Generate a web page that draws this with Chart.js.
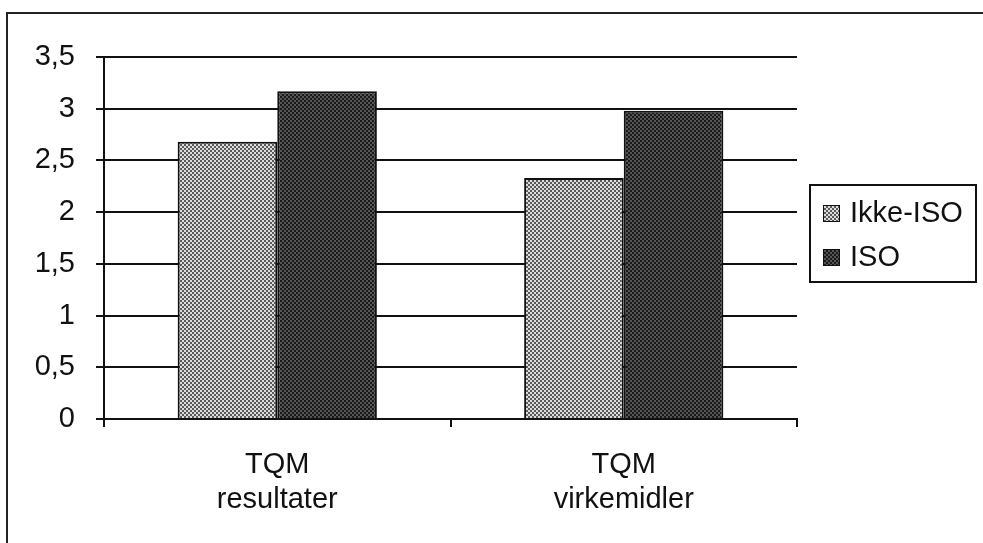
<!DOCTYPE html>
<html>
<head>
<meta charset="utf-8">
<script src="https://cdn.jsdelivr.net/npm/chart.js@4.4.1/dist/chart.umd.min.js"></script>
<style>
  html, body { margin: 0; padding: 0; background: #fff; }
  #wrap { position: relative; width: 983px; height: 543px; }
</style>
</head>
<body>
<div id="wrap"><canvas id="c" width="983" height="543"></canvas></div>
<script>
// Mean scores per TQM dimension, split by ISO certification
const categories = [['TQM', 'resultater'], ['TQM', 'virkemidler']];
const seriesNames = ['Ikke-ISO', 'ISO'];
const ikkeIso = [2.68, 2.33];
const iso = [3.17, 2.98];
const yTickLabels = ['0', '0,5', '1', '1,5', '2', '2,5', '3', '3,5'];

const FONT = "'Liberation Sans', Arial, Helvetica, sans-serif";
const FONT_SIZE = 29;
const INK = '#111111';

// Small checkered tiles that give the bars their dotted raster fill
function checker(light, dark) {
  const t = document.createElement('canvas');
  t.width = 4; t.height = 4;
  const g = t.getContext('2d');
  g.fillStyle = light; g.fillRect(0, 0, 4, 4);
  g.fillStyle = dark;
  g.fillRect(0, 0, 2, 2);
  g.fillRect(2, 2, 2, 2);
  return g.createPattern(t, 'repeat');
}
const lightFill = checker('#dcdcdc', '#5a5a5a');
const darkFill = checker('#555555', '#1a1a1a');

// White page with the thin frame round the whole figure
const framePlugin = {
  id: 'frame',
  beforeDraw(chart) {
    const ctx = chart.ctx;
    ctx.save();
    ctx.fillStyle = '#ffffff';
    ctx.fillRect(0, 0, chart.width, chart.height);
    ctx.strokeStyle = '#222';
    ctx.lineWidth = 2;
    ctx.strokeRect(7, 13, chart.width + 20, chart.height + 20);
    ctx.restore();
  }
};

// Boxed legend to the right of the plot
const boxLegend = {
  id: 'boxLegend',
  afterDraw(chart) {
    const ctx = chart.ctx;
    const area = chart.chartArea;
    const x0 = area.right + 13, y0 = 185, w = 166, h = 97;
    ctx.save();
    ctx.fillStyle = '#fff';
    ctx.fillRect(x0, y0, w, h);
    ctx.strokeStyle = INK;
    ctx.lineWidth = 2;
    ctx.strokeRect(x0, y0, w, h);
    ctx.font = FONT_SIZE + 'px ' + FONT;
    ctx.textBaseline = 'middle';
    ctx.textAlign = 'left';
    chart.data.datasets.forEach((ds, i) => {
      const cy = y0 + 28 + i * 44;
      ctx.fillStyle = ds.backgroundColor;
      ctx.fillRect(x0 + 13, cy - 8, 17, 17);
      ctx.strokeStyle = INK;
      ctx.lineWidth = 1;
      ctx.strokeRect(x0 + 13.5, cy - 7.5, 16, 16);
      ctx.fillStyle = INK;
      ctx.fillText(ds.label, x0 + 40, cy + 1);
    });
    ctx.restore();
  }
};

new Chart(document.getElementById('c'), {
  type: 'bar',
  data: {
    labels: categories,
    datasets: [
      { label: seriesNames[0], data: ikkeIso, backgroundColor: lightFill,
        borderColor: INK, borderWidth: 2 },
      { label: seriesNames[1], data: iso, backgroundColor: darkFill,
        borderColor: INK, borderWidth: 2 }
    ]
  },
  options: {
    responsive: false,
    animation: false,
    devicePixelRatio: 1,
    layout: { padding: { left: 0, top: 57, right: 186, bottom: 0 } },
    datasets: { bar: { barPercentage: 1.0, categoryPercentage: 0.575 } },
    plugins: {
      legend: { display: false },
      tooltip: { enabled: false }
    },
    scales: {
      x: {
        afterFit(scale) { scale.height = 124; },
        grid: {
          offset: true,
          drawOnChartArea: false,
          drawTicks: true,
          tickLength: 8,
          color: INK,
          lineWidth: 2
        },
        border: { display: true, color: INK, width: 2 },
        ticks: {
          color: INK,
          padding: 21,
          maxRotation: 0,
          font: { family: FONT, size: FONT_SIZE, lineHeight: 1.2 }
        }
      },
      y: {
        min: 0,
        max: 3.5,
        afterFit(scale) { scale.width = 104; },
        grid: {
          color: INK,
          lineWidth: 2,
          drawTicks: true,
          tickLength: 8
        },
        border: { display: true, color: INK, width: 2 },
        ticks: {
          stepSize: 0.5,
          color: INK,
          padding: 21,
          font: { family: FONT, size: FONT_SIZE },
          callback(value, index) { return yTickLabels[index]; }
        }
      }
    }
  },
  plugins: [framePlugin, boxLegend]
});
</script>
</body>
</html>
